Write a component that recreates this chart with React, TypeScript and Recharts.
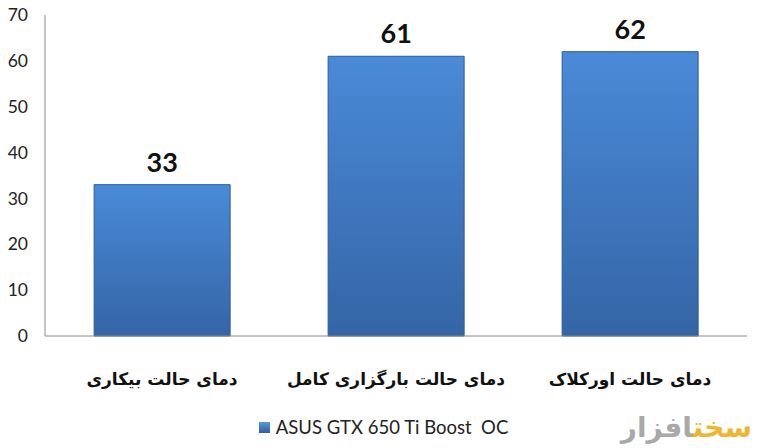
import React from "react";
import { BarChart, Bar, XAxis, YAxis, LabelList, Legend } from "recharts";

const categories = ["دمای حالت بیکاری", "دمای حالت بارگزاری کامل", "دمای حالت اورکلاک"];
const values = [33, 61, 62];
const seriesName = "ASUS GTX 650 Ti Boost  OC";
const yTicks = [0, 10, 20, 30, 40, 50, 60, 70];

const data = categories.map((c, i) => ({ name: c, value: values[i] }));

const XTick = (props: any) => {
  const { x, y, payload } = props;
  return (
    <text
      x={x}
      y={y + 36}
      textAnchor="middle"
      dominantBaseline="middle"
      fontFamily="'DejaVu Sans', sans-serif"
      fontWeight="bold"
      fontSize={17}
      fill="#111"
      direction="rtl"
      unicodeBidi="plaintext"
    >
      {payload.value}
    </text>
  );
};

const LegendContent = () => (
  <div
    style={{
      display: "flex",
      alignItems: "center",
      justifyContent: "center",
      height: 24,
      fontFamily: "Lato, 'Open Sans', sans-serif",
      fontSize: 18.5,
      color: "#222",
      paddingLeft: 20,
    }}
  >
    <svg width={11} height={11} style={{ marginRight: 6 }}>
      <rect x={0} y={0} width={11} height={11} fill="url(#legGrad)" />
      <defs>
        <linearGradient id="legGrad" x1="0" y1="0" x2="0" y2="1">
          <stop offset="0%" stopColor="#5a96de" />
          <stop offset="100%" stopColor="#2f5f9e" />
        </linearGradient>
      </defs>
    </svg>
    <span style={{ whiteSpace: "pre" }}>{seriesName}</span>
  </div>
);

export default function App() {
  return (
    <div style={{ position: "absolute", left: 0, top: 0, width: 759, height: 448, background: "#fff" }}>
      <BarChart
        width={759}
        height={448}
        data={data}
        margin={{ top: 15, right: 12, left: 0, bottom: 9 }}
        barCategoryGap="21%"
      >
        <defs>
          <linearGradient id="barGrad" x1="0" y1="0" x2="0" y2="1">
            <stop offset="0%" stopColor="#4a8ad8" />
            <stop offset="100%" stopColor="#3465a6" />
          </linearGradient>
        </defs>
        <XAxis
          dataKey="name"
          axisLine={{ stroke: "#8a8a8a" }}
          tickLine={false}
          height={79}
          tick={<XTick />}
          interval={0}
        />
        <YAxis
          domain={[0, 70]}
          ticks={yTicks}
          width={45}
          axisLine={{ stroke: "#8a8a8a" }}
          tickLine={false}
          tick={{ fontFamily: "Lato, 'Open Sans', sans-serif", fontSize: 17.5, fill: "#222" }}
          tickMargin={11}
        />
        <Legend verticalAlign="bottom" height={24} content={<LegendContent />} />
        <Bar dataKey="value" name={seriesName} fill="url(#barGrad)" stroke="#2d5c98" strokeWidth={1} isAnimationActive={false}>
          <LabelList
            dataKey="value"
            position="top"
            offset={13}
            style={{ fontFamily: "Lato, 'Open Sans', sans-serif", fontWeight: "bold", fontSize: 27, fill: "#111" }}
          />
        </Bar>
      </BarChart>
      <div
        style={{
          position: "absolute",
          left: 596,
          top: 410,
          width: 156,
          height: 36,
          fontFamily: "'DejaVu Sans', sans-serif",
          fontWeight: "bold",
          fontSize: 28,
          direction: "rtl",
          lineHeight: "36px",
          whiteSpace: "nowrap",
        }}
      >
        <span style={{ color: "#f0b530" }}>سخت</span>
        <span style={{ color: "#a9a9a9" }}>افزار</span>
      </div>
    </div>
  );
}
